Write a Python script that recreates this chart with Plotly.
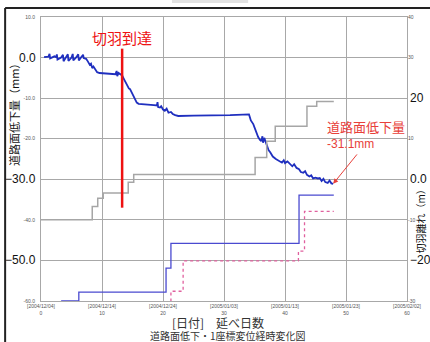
import plotly.graph_objects as go

# ---- data ----
settle_days = [0.5, 1.2, 1.4, 1.5, 2.2, 2.5, 2.6, 2.7, 3.3, 3.6, 3.7, 4.1, 4.4, 4.5, 5.0, 5.2, 5.3, 5.8, 6.1, 6.2, 6.6, 6.9, 7.0, 7.4,
               7.7, 8.0, 8.2, 8.4, 8.6, 8.9, 9.2, 9.6, 10.5, 11.5, 12.2, 12.4, 12.5, 12.7, 13.0, 13.3, 13.6, 13.9, 14.2, 14.4,
               14.6, 14.9, 15.1, 15.4, 15.7, 16.0, 16.5, 17.5, 18.5, 19.0, 19.1, 19.2, 19.5, 19.7, 20.0, 20.3, 20.6, 20.9,
               21.3, 21.6, 22.0, 22.5, 25.0, 28.0, 31.0, 34.1,
               34.4, 34.8, 35.1, 35.4, 35.6, 35.9, 36.1, 36.3, 36.4, 36.6, 36.8, 37.0, 37.3, 37.6, 38.0, 38.5, 39.0, 39.5,
               39.8, 40.0, 40.4, 40.8, 41.2, 41.5, 41.9, 42.3, 42.6, 43.0, 43.3, 43.6, 44.0, 44.3, 44.6, 45.0, 45.4, 45.7,
               46.0, 46.3, 46.6, 47.0, 47.3, 47.6, 47.9]
settle_mm = [0.1, 0.2, 0.9, -0.2, 0.3, 0.1, 0.8, -0.5, 0.0, 0.7, -0.9, 0.1, 0.8, -0.8, 0.0, 0.9, -0.7, 0.1, 0.8, -0.7, 0.0, 0.7, -0.1, -0.3,
             -1.0, -1.8, -1.5, -2.6, -2.2, -3.0, -3.6, -3.8, -3.9, -4.0, -4.1, -3.3, -4.6, -3.8, -4.1, -4.4, -5.3, -6.2, -6.8, -7.6,
             -7.8, -8.8, -9.3, -10.4, -11.1, -11.4, -11.5, -11.6, -11.7, -11.8, -11.0, -12.2, -12.3, -12.0, -12.8, -13.1, -12.6, -13.6,
             -13.4, -13.9, -14.2, -14.4, -14.3, -14.3, -14.2, -14.0,
             -15.5, -16.4, -17.8, -18.6, -19.6, -20.3, -20.6, -19.4, -21.0, -19.8, -20.8, -21.8, -22.8, -23.4, -24.4, -25.0, -25.5, -25.9,
             -25.3, -26.0, -25.6, -26.2, -26.8, -26.3, -27.2, -27.5, -28.2, -28.4, -28.0, -28.9, -29.3, -29.0, -29.8, -29.6, -29.8, -29.7,
             -30.4, -29.9, -30.7, -30.9, -30.3, -31.0, -31.1]

face_days = [0, 8.4, 9.3, 10.2, 14.3, 15.2, 35.1, 37.0, 38.4, 43.6, 45.2, 48.0]
face_m = [-10, -6.7, -4.7, -3.4, -0.7, 1.2, 5.4, 9.4, 13.1, 18.0, 19.2, 19.2]

blue_step_days = [3.3, 6.2, 20.5, 21.3, 42.3, 48.0]
blue_step_m = [-30, -27.8, -21.9, -15.8, -3.9, -3.9]

pink_step_days = [21.2, 21.3, 23.3, 42.2, 43.2, 48.0]
pink_step_m = [-30, -27.6, -20.1, -17.7, -7.9, -7.9]

x_tick_vals = [0, 10, 20, 30, 40, 50, 60]
x_tick_dates = ["[2004/12/04]", "[2004/12/14]", "[2004/12/24]", "[2005/01/03]", "[2005/01/13]", "[2005/01/23]", "[2005/02/02]"]
y_tick_vals = [10, 0, -10, -20, -30, -40, -50, -60]
y_tick_small = ["10.0", "", "-10.0", "-20.0", "", "-40.0", "", "-60.0"]
y_big = [(0, "0.0"), (-30, "−30.0"), (-50, "−50.0")]
y2_tick_vals = [40, 30, 20, 10, 0, -10, -20, -30]
y2_tick_small = ["40", "30", "", "10", "", "-10", "", "-30"]
y2_big = [(20, "20"), (0, "0.0"), (-20, "−20")]

face_arrival_day = 13.3
final_day, final_mm = 47.9, -31.1

JP = "Noto Sans CJK JP"
NUM = "Liberation Sans"

fig = go.Figure()
fig.add_trace(go.Scatter(x=face_days, y=face_m, yaxis="y2", mode="lines", line_shape="hv",
                         line=dict(color="#a6a6a6", width=1.5), showlegend=False))
fig.add_trace(go.Scatter(x=blue_step_days, y=blue_step_m, yaxis="y2", mode="lines", line_shape="hv",
                         line=dict(color="#4a4ad0", width=1.3), showlegend=False))
fig.add_trace(go.Scatter(x=pink_step_days, y=pink_step_m, yaxis="y2", mode="lines", line_shape="hv",
                         line=dict(color="#e0609e", width=1.3, dash="dot"), showlegend=False))
fig.add_trace(go.Scatter(x=settle_days, y=settle_mm, mode="lines",
                         line=dict(color="#1f2fbf", width=1.8), showlegend=False))

grid = "#a8a8a8"
fig.update_layout(
    width=430, height=342,
    margin=dict(l=41, r=23, t=17, b=41, autoexpand=False),
    paper_bgcolor="white", plot_bgcolor="white",
    xaxis=dict(range=[0, 60], tickvals=x_tick_vals, automargin=False,
               ticktext=[f"{d}<br>{v}" for d, v in zip(x_tick_dates, x_tick_vals)],
               tickfont=dict(size=5, color="#555", family=NUM),
               showgrid=True, gridcolor=grid, gridwidth=1, zeroline=False,
               showline=True, linecolor=grid, mirror=True, ticks="", ticklabelstandoff=0),
    yaxis=dict(range=[-60, 10], tickvals=y_tick_vals, ticktext=y_tick_small, automargin=False,
               tickfont=dict(size=5, color="#555", family=NUM),
               showgrid=True, gridcolor=grid, gridwidth=1, zeroline=False,
               showline=True, linecolor=grid, mirror=True, ticks="", ticklabelstandoff=4),
    yaxis2=dict(range=[-30, 40], overlaying="y", side="right", tickvals=y2_tick_vals, ticktext=y2_tick_small,
                automargin=False, tickfont=dict(size=5, color="#555", family=NUM),
                showgrid=False, zeroline=False, ticks=""),
)

ann = []
for v, t in y_big:
    ann.append(dict(x=-0.008, xref="paper", y=v, yref="y", text=t, showarrow=False, xanchor="right",
                    yanchor="middle", font=dict(size=12, color="#111", family=NUM)))
for v, t in y2_big:
    ann.append(dict(x=1.003, xref="paper", y=v, yref="y2", text=t, showarrow=False, xanchor="left",
                    yanchor="middle", font=dict(size=12, color="#111", family=NUM)))
ann += [
    dict(x=-0.074, xref="paper", y=0.665, yref="paper", text="道路面低下量（mm）", textangle=-90, showarrow=False,
         xanchor="center", yanchor="middle", font=dict(size=11, color="#111", family=JP)),
    dict(x=1.038, xref="paper", y=0.29, yref="paper", text="切羽離れ（m）", textangle=-90, showarrow=False,
         xanchor="center", yanchor="middle", font=dict(size=10, color="#111", family=JP)),
    dict(x=0.484, xref="paper", y=-0.074, yref="paper", text="[日付]　延べ日数", showarrow=False,
         xanchor="center", yanchor="middle", font=dict(size=12, color="#333", family=JP)),
    dict(x=0.511, xref="paper", y=-0.121, yref="paper", text="道路面低下・1座標変位経時変化図", showarrow=False,
         xanchor="center", yanchor="middle", font=dict(size=10, color="#333", family=JP)),
    dict(x=face_arrival_day, y=4.9, text="切羽到達", showarrow=False, yanchor="middle",
         font=dict(size=15, color="#ee1111", family=JP)),
    dict(x=46.6, y=-17.0, text="道路面低下量", showarrow=False, xanchor="left", yanchor="middle",
         font=dict(size=13, color="#e8403a", family=JP)),
    dict(x=46.6, y=-21.2, text="-31.1mm", showarrow=False, xanchor="left", yanchor="middle",
         font=dict(size=12, color="#e8403a", family=NUM)),
    dict(x=final_day, y=final_mm, ax=52.0, ay=-23.5, axref="x", ayref="y", text="", showarrow=True,
         arrowhead=2, arrowsize=1, arrowwidth=1, arrowcolor="#e8403a", standoff=0),
]
fig.update_layout(annotations=ann)

fig.update_layout(shapes=[
    dict(type="line", xref="x", yref="y", x0=face_arrival_day, x1=face_arrival_day, y0=2.2, y1=-37,
         line=dict(color="#ee1111", width=2.5)),
    dict(type="line", xref="paper", yref="paper", x0=-0.098, x1=-0.098, y0=1.032, y1=-0.2,
         line=dict(color="#222", width=2)),
    dict(type="line", xref="paper", yref="paper", x0=-0.098, x1=1.1, y0=1.032, y1=1.032,
         line=dict(color="#222", width=2)),
    dict(type="rect", xref="paper", yref="paper", x0=0.358, x1=0.566, y0=1.049, y1=1.07,
         fillcolor="#e2e2e2", line=dict(width=0)),
])

fig.write_html("out.html", config={"displayModeBar": False},
               post_script="document.body.style.margin='0';document.body.style.overflow='hidden';")
